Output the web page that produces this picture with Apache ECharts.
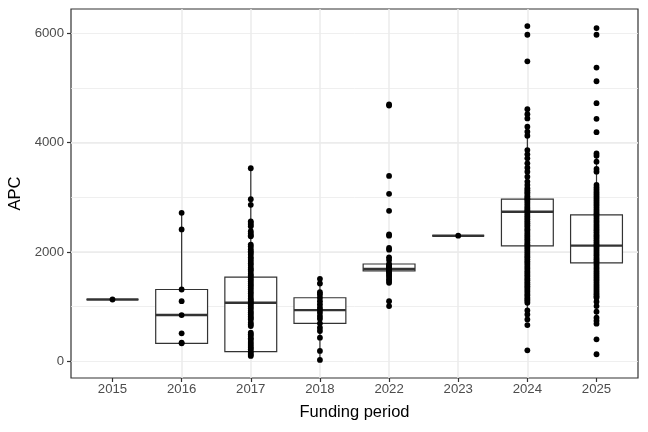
<!DOCTYPE html>
<html>
<head>
<meta charset="utf-8">
<script src="https://cdn.jsdelivr.net/npm/echarts@6/dist/echarts.min.js"></script>
<style>
  html, body { margin: 0; padding: 0; background: #fff; }
  #chart { width: 648px; height: 432px; }
</style>
</head>
<body>
<div id="chart"></div>
<script>
// funding periods on the x axis
var categories = ['2015', '2016', '2017', '2018', '2022', '2023', '2024', '2025'];

// box stats (whisker ends, quartiles, median)
var boxLow    = [1130,  328,   97,   24, 1470, 2298,  857,  688];
var boxQ1     = [1130,  328,  177,  693, 1655, 2298, 2110, 1800];
var boxMedian = [1130,  845, 1070,  936, 1690, 2298, 2736, 2116];
var boxQ3     = [1130, 1313, 1538, 1162, 1780, 2298, 2967, 2681];
var boxHigh   = [1130, 2717, 3533, 1508, 1903, 2298, 4201, 3805];

// individual APC values per period
var apc2015 = [1130];
var apc2016 = [2717, 2413, 1313, 1100, 845, 511, 340, 328];
var apc2017 = [3533, 2967, 2863, 2562, 2531, 2497, 2470, 2380, 2338, 2301, 2288,
  2135, 2098, 2050, 2012, 1985, 1950, 1902, 1870, 1833, 1795, 1760, 1712, 1680,
  1650, 1603, 1570, 1538, 1500, 1466, 1425, 1390, 1350, 1312, 1270, 1238, 1196,
  1150, 1120, 1090, 1070, 1045, 1002, 968, 925, 890, 860, 820, 790, 766, 705,
  672, 644, 523, 495, 460, 420, 395, 350, 315, 280, 245, 219, 177, 150, 118, 97];
var apc2018 = [1508, 1423, 1264, 1222, 1162, 1100, 1040, 979, 936, 888, 826, 779,
  693, 613, 553, 432, 188, 24];
var apc2022 = [4700, 4680, 3392, 3064, 2754, 2322, 2298, 2074, 2043, 1903, 1855,
  1782, 1760, 1741, 1722, 1700, 1690, 1681, 1668, 1660, 1649, 1630, 1602, 1571,
  1540, 1503, 1470, 1435, 1100, 1009];
var apc2023 = [2298];
var apc2024 = [6135, 5977, 5490, 4614, 4523, 4444, 4292, 4201, 4128, 3866, 3787,
  3714, 3623, 3543, 3470, 3379, 3288, 3228, 3167, 3131, 3094, 3062, 3021, 2988,
  2967, 2931, 2897, 2858, 2822, 2791, 2760, 2736, 2702, 2664, 2633, 2598, 2561,
  2527, 2490, 2456, 2418, 2387, 2349, 2312, 2281, 2244, 2212, 2173, 2140, 2110,
  2077, 2041, 2006, 1969, 1933, 1902, 1866, 1828, 1797, 1762, 1724, 1691, 1653,
  1622, 1584, 1551, 1513, 1482, 1444, 1411, 1373, 1342, 1304, 1271, 1233, 1202,
  1163, 1131, 1101, 1070, 930, 857, 766, 662, 200];
var apc2025 = [6099, 5977, 5375, 5125, 4724, 4437, 4194, 3805, 3762, 3653, 3520,
  3470, 3228, 3180, 3142, 3103, 3068, 3031, 2994, 2958, 2921, 2884, 2850, 2812,
  2777, 2741, 2705, 2681, 2648, 2611, 2574, 2540, 2502, 2467, 2430, 2396, 2359,
  2322, 2288, 2251, 2214, 2180, 2143, 2116, 2082, 2047, 2010, 1973, 1938, 1901,
  1866, 1830, 1800, 1764, 1727, 1692, 1655, 1620, 1583, 1548, 1511, 1476, 1440,
  1403, 1368, 1331, 1296, 1260, 1225, 1190, 1162, 1089, 1009, 906, 797, 742, 688,
  401, 128];
var pointsByPeriod = [apc2015, apc2016, apc2017, apc2018, apc2022, apc2023, apc2024, apc2025];

var yTicks = [0, 2000, 4000, 6000];
var xTicks = [0, 1, 2, 3, 4, 5, 6, 7];

var boxData = [];
var pointData = [];
for (var i in categories) {
    boxData.push([+i, boxLow[i], boxQ1[i], boxMedian[i], boxQ3[i], boxHigh[i]]);
    for (var j in pointsByPeriod[i]) {
        pointData.push([+i, pointsByPeriod[i][j]]);
    }
}

var font = 'Liberation Sans, Arial, Helvetica, sans-serif';

var myChart = echarts.init(document.getElementById('chart'));

var option = {
    backgroundColor: '#ffffff',
    animation: false,
    grid: {
        left: 71, right: 10, top: 9, bottom: 54,
        outerBoundsMode: 'none',
        containLabel: false,
        show: true, borderColor: '#333333', borderWidth: 1.2, backgroundColor: '#ffffff'
    },
    xAxis: {
        type: 'value',
        min: -0.6, max: 7.6,
        minInterval: 1, maxInterval: 1,
        name: 'Funding period',
        nameLocation: 'middle',
        nameGap: 26,
        nameTextStyle: { color: '#000000', fontSize: 16.5, fontFamily: font },
        axisLine: { show: false, onZero: false },
        axisTick: { show: true, length: 4, customValues: xTicks, lineStyle: { color: '#333333', width: 1.2 } },
        axisLabel: {
            customValues: xTicks, margin: 5,
            color: '#4d4d4d', fontSize: 13.2, fontFamily: font,
            formatter: function (v) { return categories[Math.round(v)] || ''; }
        },
        splitLine: { show: true, showMinLine: false, showMaxLine: false, lineStyle: { color: '#ebebeb', width: 1.5 } }
    },
    yAxis: [{
        type: 'value',
        min: -307, max: 6448,
        minInterval: 1000, maxInterval: 1000,
        axisLine: { show: false, onZero: false },
        axisTick: { show: false },
        axisLabel: { show: false },
        splitLine: { show: true, showMinLine: false, showMaxLine: false, lineStyle: { color: '#ebebeb', width: 0.8 } }
    }, {
        type: 'value',
        position: 'left',
        min: -307, max: 6448,
        minInterval: 2000, maxInterval: 2000,
        name: 'APC',
        nameLocation: 'middle',
        nameGap: 43,
        nameTextStyle: { color: '#000000', fontSize: 16.5, fontFamily: font },
        axisLine: { show: false, onZero: false },
        axisTick: { show: true, length: 4, customValues: yTicks, lineStyle: { color: '#333333', width: 1.2 } },
        axisLabel: {
            customValues: yTicks, margin: 7, color: '#4d4d4d', fontSize: 13.2, fontFamily: font,
            formatter: function (v) { return String(v); }
        },
        splitLine: { show: true, showMinLine: false, showMaxLine: false, lineStyle: { color: '#ebebeb', width: 1.5 } }
    }],
    series: [{
        type: 'custom',
        name: 'box',
        yAxisIndex: 0,
        data: boxData,
        encode: { x: 0, y: [1, 2, 3, 4, 5] },
        renderItem: function (params, api) {
            var x = api.value(0);
            var lo = api.coord([x, api.value(1)]);
            var q1 = api.coord([x, api.value(2)]);
            var md = api.coord([x, api.value(3)]);
            var q3 = api.coord([x, api.value(4)]);
            var hi = api.coord([x, api.value(5)]);
            var half = api.size([0.75, 0])[0] / 2;
            var cx = lo[0];
            var line = { stroke: '#333333', lineWidth: 1.2 };
            return {
                type: 'group',
                children: [
                    { type: 'line', shape: { x1: cx, y1: q3[1], x2: cx, y2: hi[1] }, style: line },
                    { type: 'line', shape: { x1: cx, y1: q1[1], x2: cx, y2: lo[1] }, style: line },
                    { type: 'rect', shape: { x: cx - half, y: q3[1], width: half * 2, height: q1[1] - q3[1] },
                      style: { fill: '#ffffff', stroke: '#333333', lineWidth: 1.2 } },
                    { type: 'line', shape: { x1: cx - half, y1: md[1], x2: cx + half, y2: md[1] },
                      style: { stroke: '#333333', lineWidth: 2.4 } }
                ]
            };
        },
        z: 2
    }, {
        type: 'scatter',
        name: 'APC',
        yAxisIndex: 0,
        data: pointData,
        symbol: 'circle',
        symbolSize: 5.8,
        itemStyle: { color: '#000000', opacity: 1 },
        z: 3
    }]
};

myChart.setOption(option);
</script>
</body>
</html>
